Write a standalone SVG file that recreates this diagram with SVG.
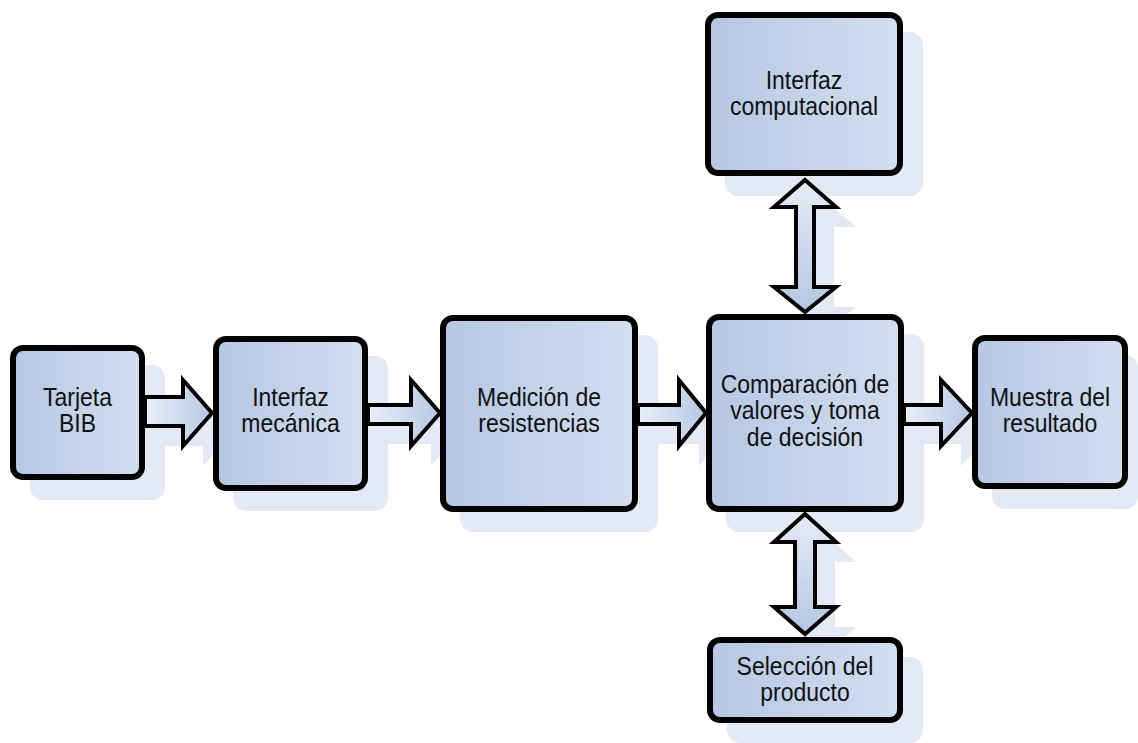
<svg xmlns="http://www.w3.org/2000/svg" width="1138" height="743" viewBox="0 0 1138 743">
  <defs>
    <linearGradient id="boxGrad" x1="0" y1="0" x2="1" y2="0">
      <stop offset="0" stop-color="#b5c7e3"/>
      <stop offset="1" stop-color="#d3deef"/>
    </linearGradient>
    <linearGradient id="arrH" x1="0" y1="0" x2="1" y2="0">
      <stop offset="0" stop-color="#e9eef7"/>
      <stop offset="1" stop-color="#b6c8e4"/>
    </linearGradient>
    <linearGradient id="arrV" x1="0" y1="0" x2="0" y2="1">
      <stop offset="0" stop-color="#e6ecf6"/>
      <stop offset="1" stop-color="#b4c6e2"/>
    </linearGradient>
    <style>
      .shadow { fill: #e4eaf5; stroke: none; }
      .box { fill: url(#boxGrad); stroke: #000; stroke-width: 6; }
      .ah { fill: url(#arrH); stroke: #000; stroke-width: 4; stroke-linejoin: miter; }
      .av { fill: url(#arrV); stroke: #000; stroke-width: 4; stroke-linejoin: miter; }
      .lbl { font-family: "Liberation Sans", Arial, sans-serif; font-size: 23px; fill: #111; text-anchor: middle; }
    </style>
  </defs>
  <rect width="1138" height="743" fill="#ffffff"/>

  <g id="shadows">
    <rect class="shadow" x="30" y="365" width="135" height="135" rx="13"/>
    <rect class="shadow" x="233" y="356" width="155" height="155" rx="13"/>
    <rect class="shadow" x="460" y="335" width="198" height="197" rx="13"/>
    <rect class="shadow" x="726" y="334" width="198" height="198" rx="13"/>
    <rect class="shadow" x="992" y="355" width="146" height="154" rx="13"/>
    <rect class="shadow" x="725" y="32" width="198" height="164" rx="13"/>
    <rect class="shadow" x="727" y="657" width="196" height="86" rx="13"/>
    <g transform="translate(20,20)">
      <polygon class="shadow" points="145,397 183,397 183,380 212,413 183,446 183,426 145,426"/>
      <polygon class="shadow" points="368,405 411,405 411,380 440,413 411,446 411,424 368,424"/>
      <polygon class="shadow" points="638,405 679,405 679,380 706,413 679,446 679,424 638,424"/>
      <polygon class="shadow" points="904,405 941,405 941,380 972,413 941,446 941,424 904,424"/>
      <polygon class="shadow" points="805,180 836,207 814,207 814,287 836,287 805,312 774,287 796,287 796,207 774,207"/>
      <polygon class="shadow" points="805,514 836,542 815,542 815,607 836,607 805,634 774,607 795,607 795,542 774,542"/>
    </g>
  </g>

  <g id="connectors">
    <polygon class="ah" points="145,397 183,397 183,380 212,413 183,446 183,426 145,426"/>
    <polygon class="ah" points="368,405 411,405 411,380 440,413 411,446 411,424 368,424"/>
    <polygon class="ah" points="638,405 679,405 679,380 706,413 679,446 679,424 638,424"/>
    <polygon class="ah" points="904,405 941,405 941,380 972,413 941,446 941,424 904,424"/>
    <polygon class="av" points="805,180 836,207 814,207 814,287 836,287 805,312 774,287 796,287 796,207 774,207"/>
    <polygon class="av" points="805,514 836,542 815,542 815,607 836,607 805,634 774,607 795,607 795,542 774,542"/>
  </g>

  <g id="node-tarjeta">
    <rect class="box" x="13" y="348" width="129" height="129" rx="10"/>
    <g transform="translate(77.5,406) scale(1,1.12)">
      <text class="lbl" x="0" y="0">Tarjeta</text>
      <text class="lbl" x="0" y="23.6">BIB</text>
    </g>
  </g>

  <g id="node-interfaz-mecanica">
    <rect class="box" x="216" y="339" width="149" height="149" rx="10"/>
    <g transform="translate(290.5,406) scale(1,1.12)">
      <text class="lbl" x="0" y="0">Interfaz</text>
      <text class="lbl" x="0" y="23.6">mecánica</text>
    </g>
  </g>

  <g id="node-medicion">
    <rect class="box" x="443" y="318" width="192" height="191" rx="10"/>
    <g transform="translate(539,406) scale(1,1.12)">
      <text class="lbl" x="0" y="0">Medición de</text>
      <text class="lbl" x="0" y="23.6">resistencias</text>
    </g>
  </g>

  <g id="node-comparacion">
    <rect class="box" x="709" y="317" width="192" height="192" rx="10"/>
    <g transform="translate(805,393) scale(1,1.12)">
      <text class="lbl" x="0" y="0">Comparación de</text>
      <text class="lbl" x="0" y="23.6">valores y toma</text>
      <text class="lbl" x="0" y="47.2">de decisión</text>
    </g>
  </g>

  <g id="node-muestra">
    <rect class="box" x="975" y="338" width="150" height="148" rx="10"/>
    <g transform="translate(1050,406) scale(1,1.12)">
      <text class="lbl" x="0" y="0">Muestra del</text>
      <text class="lbl" x="0" y="23.6">resultado</text>
    </g>
  </g>

  <g id="node-interfaz-computacional">
    <rect class="box" x="708" y="15" width="192" height="158" rx="10"/>
    <g transform="translate(804,89) scale(1,1.12)">
      <text class="lbl" x="0" y="0">Interfaz</text>
      <text class="lbl" x="0" y="23.6">computacional</text>
    </g>
  </g>

  <g id="node-seleccion">
    <rect class="box" x="710" y="640" width="190" height="80" rx="10"/>
    <g transform="translate(805,675) scale(1,1.12)">
      <text class="lbl" x="0" y="0">Selección del</text>
      <text class="lbl" x="0" y="23.6">producto</text>
    </g>
  </g>
</svg>
